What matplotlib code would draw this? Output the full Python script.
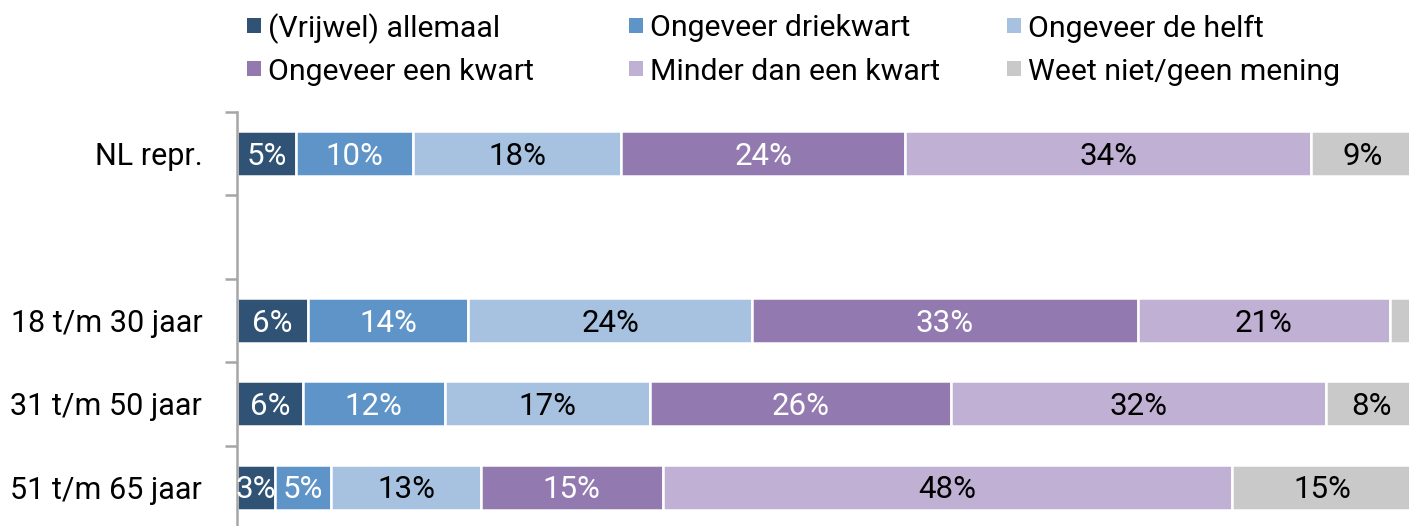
import numpy as np
import matplotlib
matplotlib.use("Agg")
import matplotlib.pyplot as plt
from matplotlib.patches import Rectangle

plt.rcParams["font.family"] = ["Roboto", "DejaVu Sans"]

# data (percentages)
groups = ["NL repr.", "", "18 t/m 30 jaar", "31 t/m 50 jaar", "51 t/m 65 jaar"]
series = ["(Vrijwel) allemaal", "Ongeveer driekwart", "Ongeveer de helft",
          "Ongeveer een kwart", "Minder dan een kwart", "Weet niet/geen mening"]
allemaal = [5.0, 0, 6.0, 5.6, 3.2]
driekwart = [9.9, 0, 13.6, 12.0, 4.8]
helft = [17.7, 0, 24.1, 17.4, 12.7]
kwart = [24.1, 0, 32.7, 25.6, 15.4]
minder = [34.4, 0, 21.4, 31.8, 48.3]
weet_niet = [8.8, 0, 2.2, 7.6, 15.4]

values = [allemaal, driekwart, helft, kwart, minder, weet_niet]
colors = ["#2f5275", "#5e94c8", "#a6c2e0", "#927ab0", "#c0b0d3", "#c9c9c9"]
text_colors = ["white", "white", "black", "white", "black", "black"]

W, H = 1409, 526
fig = plt.figure(figsize=(W / 100, H / 100), dpi=100)
# axes runs from x=237 to 1416 px, y=112 to 529 px
ax = fig.add_axes([237 / W, (H - 529) / H, 1179 / W, 417 / H])

y = np.arange(len(groups))
left = np.zeros(len(groups))
for vals, col, tcol in zip(values, colors, text_colors):
    vals = np.array(vals)
    ax.barh(y, vals, left=left, height=0.54, color=col,
            edgecolor="white", linewidth=1.8)
    for yi, (l, v) in enumerate(zip(left, vals)):
        if v >= 3:
            ax.text(l + v / 2, yi + 0.03, f"{v:.0f}%", ha="center",
                    va="center", color=tcol, fontsize=22.5)
    left += vals

ax.set_xlim(0, 100)
ax.set_ylim(len(groups) - 0.5, -0.5)
ax.set_yticks(y)
ax.set_yticklabels(groups, fontsize=22, va="center_baseline")
ax.set_yticks(np.arange(len(groups) + 1) - 0.5, minor=True)
ax.tick_params(axis="y", which="major", length=0, pad=25)
ax.tick_params(axis="y", which="minor", length=9, width=1.8, color="#a6a6a6")
ax.set_xticks([])
for s in ["top", "right", "bottom"]:
    ax.spines[s].set_visible(False)
ax.spines["left"].set_color("#a6a6a6")
ax.spines["left"].set_linewidth(1.8)

# legend: three columns, two rows
col_x = [247, 629, 1007]
row_y = [25.5, 68.5]
for i, (name, col) in enumerate(zip(series, colors)):
    cx = col_x[i % 3]
    cy = row_y[i // 3]
    fig.add_artist(Rectangle((cx / W, 1 - (cy + 7.5) / H), 14 / W, 15 / H,
                             transform=fig.transFigure, color=col, lw=0))
    fig.text((cx + 21) / W, 1 - cy / H, name, fontsize=21.8,
             ha="left", va="center_baseline")

fig.savefig("out.png", dpi=100)
